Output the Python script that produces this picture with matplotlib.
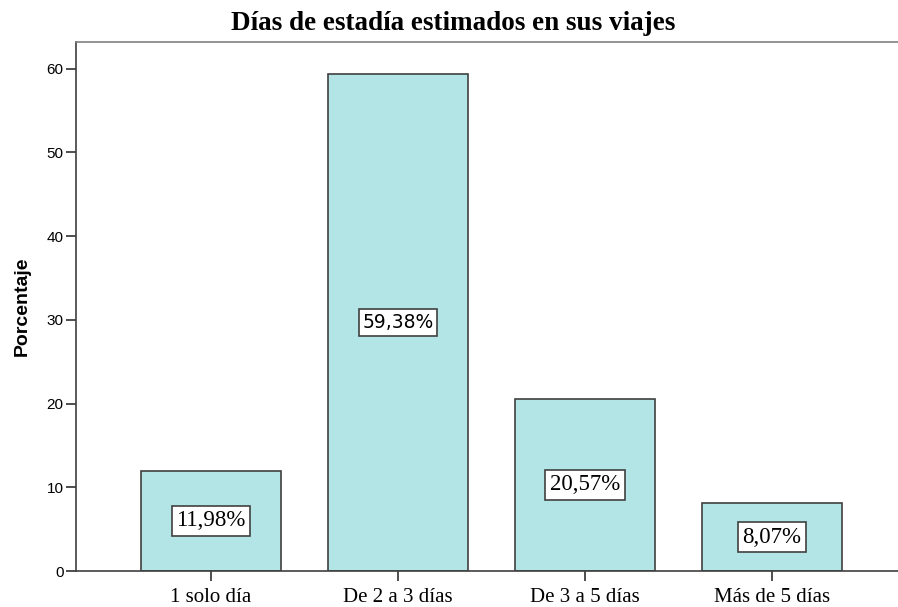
import matplotlib
matplotlib.use('Agg')
from matplotlib import pyplot as plt

categorias = ['1 solo día', 'De 2 a 3 días', 'De 3 a 5 días', 'Más de 5 días']
porcentajes = [11.98, 59.38, 20.57, 8.07]
etiquetas = ['11,98%', '59,38%', '20,57%', '8,07%']
yticks = [0, 10, 20, 30, 40, 50, 60]

fig = plt.figure(figsize=(8.98, 6.07), dpi=100)
ax = fig.add_axes([0.0846, 0.0593, 0.9154, 0.8715])

x = list(range(len(categorias)))
ax.bar(x, porcentajes, width=0.75, color='#b3e5e6', edgecolor='#404040', linewidth=1.2, zorder=2)

for xi, v, lab in zip(x, porcentajes, etiquetas):
    if lab == '59,38%':
        fam, fs = 'DejaVu Sans', 13.5
    else:
        fam, fs = 'Liberation Serif', 16.5
    ax.text(xi, v / 2, lab, ha='center', va='center', fontsize=fs, family=fam,
            bbox=dict(boxstyle='square,pad=0.2', fc='white', ec='#404040', lw=1.2), zorder=3)

ax.set_xlim(-0.722, 3.674)
ax.set_ylim(0, 63.2)
ax.set_yticks(yticks)
ax.set_xticks(x)
ax.set_xticklabels(categorias, family='Liberation Serif', fontsize=15)
for t in ax.get_yticklabels():
    t.set_family('Liberation Sans')
    t.set_fontsize(11)
ax.tick_params(axis='both', direction='out', length=7.5, width=1.2, color='#303030')
ax.tick_params(axis='y', pad=1.5)
ax.tick_params(axis='x', pad=5)

ax.spines['right'].set_visible(False)
ax.spines['left'].set_color('#404040')
ax.spines['bottom'].set_color('#404040')
ax.spines['top'].set_color('#808080')
for s in ax.spines.values():
    s.set_linewidth(1.2)

ax.set_ylabel('Porcentaje', family='Liberation Sans', fontweight='bold', fontsize=14, labelpad=11)
fig.text(0.5 * (218 + 688) / 898, 1 - 23 / 607, 'Días de estadía estimados en sus viajes',
         ha='center', va='center', family='Liberation Serif', fontweight='bold', fontsize=19.5)

fig.savefig('out.png', dpi=100)
